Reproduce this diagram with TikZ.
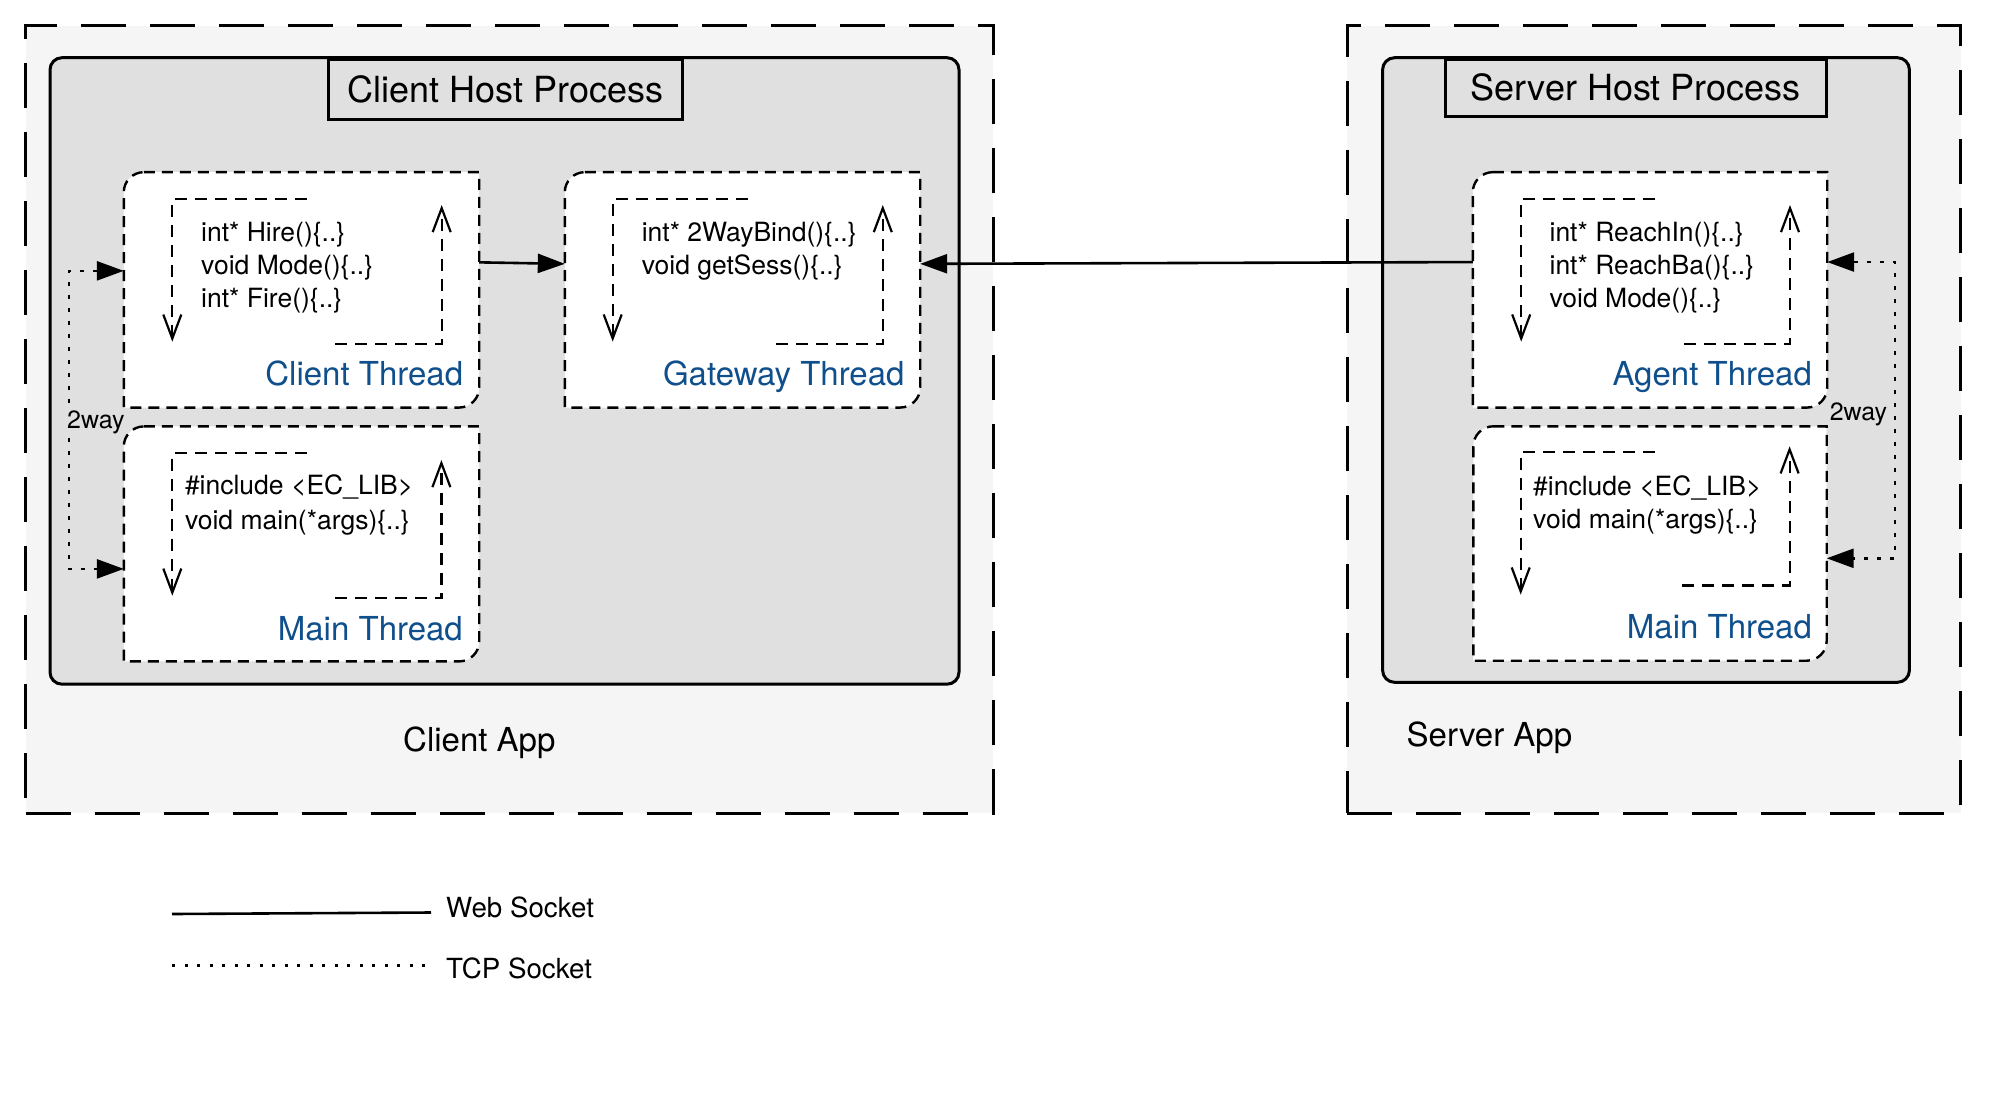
\documentclass[tikz,border=0pt]{standalone}
\usepackage{fontspec}
\setmainfont{TeX Gyre Heros}
\usetikzlibrary{arrows.meta,calc}
\definecolor{appfill}{HTML}{F5F5F5}
\definecolor{hostfill}{HTML}{E0E0E0}
\definecolor{threadblue}{HTML}{0F4F8C}
\newcommand\threadshape[1]{%
  \filldraw[threadborder] ([xshift=20pt]#1.north west) -- (#1.north east)
    -- ([yshift=20pt]#1.south east) .. controls ([yshift=9pt]#1.south east) and ([xshift=-9pt]#1.south east) .. ([xshift=-20pt]#1.south east)
    -- (#1.south west) -- ([yshift=-20pt]#1.north west) .. controls ([yshift=-9pt]#1.north west) and ([xshift=9pt]#1.north west) .. ([xshift=20pt]#1.north west) -- cycle;}
\begin{document}
\begin{tikzpicture}[x=1pt,y=-1pt,
  appbox/.style={draw, fill=appfill, line width=3pt, dash pattern=on 45pt off 24pt, inner sep=0pt},
  hostbox/.style={draw, fill=hostfill, line width=3pt, rounded corners=12pt, inner sep=0pt},
  titlebox/.style={draw, fill=hostfill, line width=3pt, inner sep=0pt, font=\fontsize{36}{40}\selectfont},
  threadnode/.style={inner sep=0pt, draw=none, minimum width=355pt, minimum height=235pt},
  threadborder/.style={fill=white, draw=black, line width=2.4pt, dash pattern=on 11pt off 7pt},
  loopline/.style={line width=2.2pt, dash pattern=on 12pt off 8pt, -{Straight Barb[length=24pt,width=18pt]}},
  code/.style={anchor=base west, inner sep=0pt, font=\fontsize{26.5}{33}\selectfont},
  threadlabel/.style={anchor=base east, inner sep=0pt, text=threadblue, font=\fontsize{33}{40}\selectfont},
  applabel/.style={anchor=base west, inner sep=0pt, font=\fontsize{33}{40}\selectfont},
  waylabel/.style={anchor=base west, inner sep=0pt, font=\fontsize{25}{30}\selectfont},
  legendlabel/.style={anchor=base west, inner sep=0pt, font=\fontsize{27.7}{32}\selectfont},
  ws/.style={line width=2.6pt, -{Triangle[length=27pt,width=19pt]}},
  tcp/.style={line width=2.6pt, dash pattern=on 4pt off 9pt, {Triangle[length=27pt,width=19pt]}-{Triangle[length=27pt,width=19pt]}}
]
\useasboundingbox (0,0) rectangle (2013,1111);

% application boxes
\node[appbox, minimum width=967.3pt, minimum height=787.5pt] (clientApp) at (509.35,419.25) {};
\node[appbox, minimum width=613.4pt, minimum height=787.5pt] (serverApp) at (1654,419.25) {};

% host process boxes
\node[hostbox, minimum width=909pt, minimum height=626.5pt] (clientHost) at (504.5,370.95) {};
\node[hostbox, minimum width=526.8pt, minimum height=624.6pt] (serverHost) at (1646,370) {};

% titles
\node[titlebox, minimum width=353.5pt, minimum height=60.1pt] (clientTitle) at (505.25,89.55) {Client Host Process};
\node[titlebox, minimum width=380.5pt, minimum height=56.5pt] (serverTitle) at (1635.75,87.75) {Server Host Process};

% thread boxes
\node[threadnode] (ct) at (301.5,289.85) {};
\node[threadnode] (gw) at (742.5,289.85) {};
\node[threadnode, minimum width=354pt] (agent) at (1650,289.85) {};
\node[threadnode, minimum height=234.6pt] (cm) at (301.5,543.9) {};
\node[threadnode, minimum width=353pt, minimum height=234pt] (sm) at (1650,543.5) {};
\threadshape{ct}
\threadshape{gw}
\threadshape{agent}
\threadshape{cm}
\threadshape{sm}

% loops inside threads
\draw[loopline] (306.7,199) -- (172.3,199) -- (172.3,341.7);
\draw[loopline] (335,344) -- (441.7,344) -- (441.7,205);
\draw[loopline] (747.5,199) -- (612.7,199) -- (612.7,341.6);
\draw[loopline] (776,344) -- (882.8,344) -- (882.8,205);
\draw[loopline] (1655.3,199) -- (1521.2,199) -- (1521.2,341.6);
\draw[loopline] (1684,344) -- (1790,344) -- (1790,205);
\draw[loopline] (306.7,453) -- (172.3,453) -- (172.3,595.7);
\draw[loopline] (335,598.2) -- (441.4,598.2) -- (441.4,460);
\draw[loopline] (1655,452.3) -- (1520.7,452.3) -- (1520.7,594.6);
\draw[loopline] (1682,585.4) -- (1789.6,585.4) -- (1789.6,446.3);

% code text
\node[code] (ct1) at (201,241) {int* Hire()\{..\}};
\node[code] (ct2) at (201,274) {void Mode()\{..\}};
\node[code] (ct3) at (201,307) {int* Fire()\{..\}};
\node[code] (gw1) at (641.6,241) {int* 2WayBind()\{..\}};
\node[code] (gw2) at (641.6,274) {void getSess()\{..\}};
\node[code] (ag1) at (1549.4,241) {int* ReachIn()\{..\}};
\node[code] (ag2) at (1549.4,274) {int* ReachBa()\{..\}};
\node[code] (ag3) at (1549.4,307) {void Mode()\{..\}};
\node[code] (cm1) at (184.8,494) {\#include \textless EC\_LIB\textgreater};
\node[code] (cm2) at (184.8,529) {void main(*args)\{..\}};
\node[code] (sm1) at (1533,495) {\#include \textless EC\_LIB\textgreater};
\node[code] (sm2) at (1533,528) {void main(*args)\{..\}};

% thread labels
\node[threadlabel] (ctl) at (463.3,385) {Client Thread};
\node[threadlabel] (gwl) at (904.7,385) {Gateway Thread};
\node[threadlabel] (agl) at (1812,385) {Agent Thread};
\node[threadlabel] (cml) at (463,640) {Main Thread};
\node[threadlabel] (sml) at (1812,638) {Main Thread};

% app labels
\node[applabel] (cal) at (403,751.5) {Client App};
\node[applabel] (sal) at (1406.5,746) {Server App};

% connectors
\draw[ws] ([yshift=27.5pt]ct.east) -- ([yshift=26pt]gw.west);
\draw[ws] ([yshift=27.8pt]agent.west) -- ([yshift=26pt]gw.east);
\draw[tcp] ([yshift=19pt]ct.west) -- ++(-54.7,0) |- ([yshift=-25pt]cm.west);
\draw[tcp] ([yshift=27.8pt]agent.east) -- ++(67.6,0) |- ([yshift=-14.8pt]sm.east);
\node[waylabel, fill=hostfill, inner sep=1pt] (w1) at (66,428) {2way};
\node[waylabel] (w2) at (1829.6,420) {2way};

% legend
\coordinate (wsA) at (172,914);
\coordinate (wsB) at (431,912.5);
\coordinate (tcpA) at (172,965.6);
\coordinate (tcpB) at (427,965.6);
\draw[line width=2.6pt] (wsA) -- (wsB);
\draw[line width=2.6pt, dash pattern=on 3pt off 9.5pt] (tcpA) -- (tcpB);
\node[legendlabel] (wsl) at (446,917) {Web Socket};
\node[legendlabel] (tcpl) at (446,978) {TCP Socket};
\end{tikzpicture}
\end{document}
